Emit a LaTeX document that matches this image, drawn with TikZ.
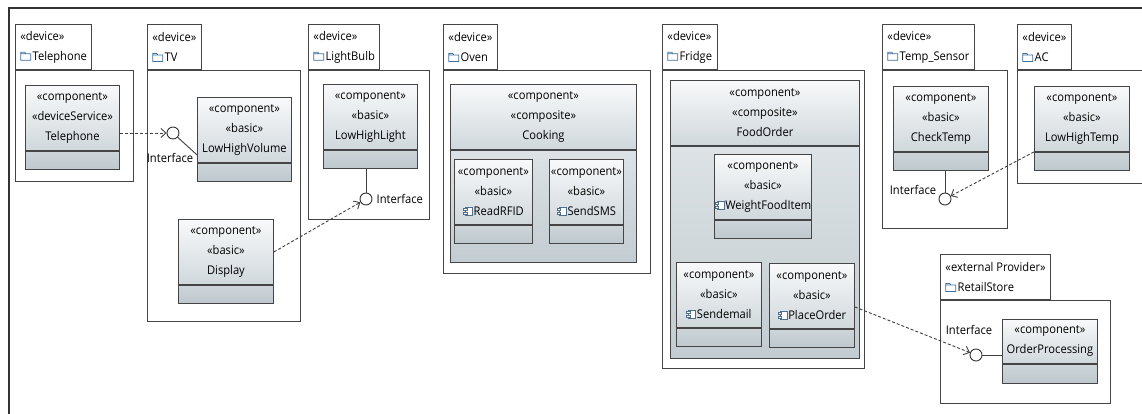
\documentclass[tikz,border=0pt]{standalone}
\usepackage{fontspec}
\setmainfont{Open Sans}[FakeStretch=0.93]
\usepackage{tikz}
\usetikzlibrary{arrows.meta,positioning,calc}

\definecolor{framegray}{HTML}{333333}
\definecolor{boxline}{HTML}{454545}
\definecolor{hdtop}{HTML}{F8F9FA}
\definecolor{hdbot}{HTML}{D0D8DC}
\definecolor{celltop}{HTML}{CDD5D9}
\definecolor{cellbot}{HTML}{BEC8CD}
\definecolor{bodytop}{HTML}{DCE2E5}
\definecolor{bodybot}{HTML}{C3CCD1}
\definecolor{fldblue}{HTML}{3F6F9F}
\definecolor{iconcol}{HTML}{4F6F8F}

% small glyphs in front of names
\newcommand{\foldicon}{\tikz[baseline=0pt]\draw[fldblue, line width=0.7pt]
  (0pt,0pt) rectangle (10pt,6.5pt) (0pt,6.5pt) -- (0pt,8pt) -- (4pt,8pt) -- (5pt,6.5pt);\hspace{1.5pt}}
\newcommand{\compicon}{\tikz[baseline=0pt]{\draw[iconcol, line width=0.6pt, fill=white] (2pt,0pt) rectangle (9pt,8.5pt);
  \draw[iconcol, line width=0.6pt, fill=white] (0pt,1.5pt) rectangle (3.5pt,3pt) (0pt,5.5pt) rectangle (3.5pt,7pt);}\hspace{1pt}}

\begin{document}
\begin{tikzpicture}[
  x=1pt, y=-1pt,
  font=\fontsize{12}{20}\selectfont,
  devbody/.style={draw=boxline, line width=0.9pt, fill=white, anchor=north west, inner sep=0pt},
  devtab/.style={draw=boxline, line width=0.9pt, fill=white, anchor=south west, align=left,
                 minimum height=45pt, inner xsep=5pt, inner ysep=0pt},
  comp/.style={draw=boxline, line width=0.9pt, top color=hdtop, bottom color=hdbot,
               minimum height=65pt, align=center, inner sep=0pt, anchor=north west},
  cell/.style={draw=boxline, line width=0.9pt, top color=celltop, bottom color=cellbot,
               minimum height=18pt, inner sep=0pt, anchor=north west},
  cbody/.style={cell, top color=bodytop, bottom color=bodybot},
  iface/.style={circle, draw=black!80, line width=0.9pt, fill=white, minimum size=12pt, inner sep=0pt},
  lbl/.style={inner sep=0pt},
  sock/.style={line width=0.9pt, black!75},
  dep/.style={densely dashed, line width=0.9pt, black!75, -{Straight Barb[length=5pt,width=9pt]}}
]
\useasboundingbox (0,0) rectangle (1142,413);
\clip (0,0) rectangle (1142,413);
\fill[white] (0,0) rectangle (1142,413);
\draw[framegray, line width=2pt] (9,420) -- (9,8) -- (1150,8);

% Telephone
\node[devbody, minimum width=118pt, minimum height=111pt] (telB) at (15,70) {};
\node[devtab] (telT) at (telB.north west) {«device»\\\foldicon Telephone};
\node[comp, minimum width=94pt] (tel) at (25,85) {«component»\\«deviceService»\\Telephone};
\node[cell, minimum width=94pt] (tel-c) at (tel.south west) {};

% TV
\node[devbody, minimum width=153pt, minimum height=251pt] (tvB) at (147,70) {};
\node[devtab] (tvT) at (tvB.north west) {«device»\\\foldicon TV};
\node[comp, minimum width=94pt] (lhv) at (197,97) {«component»\\«basic»\\LowHighVolume};
\node[cell, minimum width=94pt] (lhv-c) at (lhv.south west) {};
\node[comp, minimum width=95pt] (disp) at (178,219) {«component»\\«basic»\\Display};
\node[cell, minimum width=95pt] (disp-c) at (disp.south west) {};

% LightBulb
\node[devbody, minimum width=121pt, minimum height=149pt] (lbB) at (308,70) {};
\node[devtab] (lbT) at (lbB.north west) {«device»\\\foldicon LightBulb};
\node[comp, minimum width=94pt] (llt) at (323,84) {«component»\\«basic»\\LowHighLight};
\node[cell, minimum width=94pt] (llt-c) at (llt.south west) {};

% Oven
\node[devbody, minimum width=207pt, minimum height=203pt] (ovB) at (443,70) {};
\node[devtab] (ovT) at (ovB.north west) {«device»\\\foldicon Oven};
\node[comp, minimum width=186pt] (cook) at (450,84) {«component»\\«composite»\\Cooking};
\node[cbody, minimum width=186pt, minimum height=112pt] (cook-b) at (cook.south west) {};
\node[comp, minimum width=78pt] (rfid) at (454,159) {«component»\\«basic»\\\compicon ReadRFID};
\node[cell, minimum width=78pt] (rfid-c) at (rfid.south west) {};
\node[comp, minimum width=74pt] (sms) at (549,159) {«component»\\«basic»\\\compicon SendSMS};
\node[cell, minimum width=74pt] (sms-c) at (sms.south west) {};

% Fridge
\node[devbody, minimum width=202pt, minimum height=298pt] (frB) at (662,70) {};
\node[devtab] (frT) at (frB.north west) {«device»\\\foldicon Fridge};
\node[comp, minimum width=189pt] (food) at (670,80) {«component»\\«composite»\\FoodOrder};
\node[cbody, minimum width=189pt, minimum height=212pt] (food-b) at (food.south west) {};
\node[comp, minimum width=97pt] (wfi) at (714,154) {«component»\\«basic»\\\compicon WeightFoodItem};
\node[cell, minimum width=97pt] (wfi-c) at (wfi.south west) {};
\node[comp, minimum width=85pt] (mail) at (676,262) {«component»\\«basic»\\\compicon Sendemail};
\node[cell, minimum width=85pt] (mail-c) at (mail.south west) {};
\node[comp, minimum width=85pt] (po) at (769,263) {«component»\\«basic»\\\compicon PlaceOrder};
\node[cell, minimum width=85pt] (po-c) at (po.south west) {};

% Temp_Sensor
\node[devbody, minimum width=125pt, minimum height=158pt] (tsB) at (882,70) {};
\node[devtab] (tsT) at (tsB.north west) {«device»\\\foldicon Temp\_Sensor};
\node[comp, minimum width=95pt] (ct) at (893,86) {«component»\\«basic»\\CheckTemp};
\node[cell, minimum width=95pt] (ct-c) at (ct.south west) {};

% AC
\node[devbody, minimum width=133pt, minimum height=113pt] (acB) at (1017,70) {};
\node[devtab] (acT) at (acB.north west) {«device»\\\foldicon AC};
\node[comp, minimum width=95pt] (lht) at (1034,86) {«component»\\«basic»\\LowHighTemp};
\node[cell, minimum width=95pt] (lht-c) at (lht.south west) {};

% RetailStore
\node[devbody, minimum width=170pt, minimum height=103pt] (rsB) at (940,300) {};
\node[devtab] (rsT) at (rsB.north west) {«external Provider»\\\foldicon RetailStore};
\node[comp, minimum width=95pt, minimum height=44pt] (op) at (1002,319) {«component»\\OrderProcessing};
\node[cell, minimum width=95pt, minimum height=19pt] (op-c) at (op.south west) {};

% interfaces
\node[iface] (ifTV) at (173,133) {};
\node[lbl] (ifTVl) at (170,158) {Interface};
\node[iface] (ifLB) at (366,199) {};
\node[lbl, right=4pt of ifLB] (ifLBl) {Interface};
\node[iface] (ifTS) at (945,199) {};
\node[lbl] (ifTSl) at (913,190) {Interface};
\node[iface] (ifRS) at (976,355) {};
\node[lbl] (ifRSl) at (969,330) {Interface};

\draw[sock] (ifTV) -- ([yshift=8pt]lhv.south west);
\draw[sock] (ifLB) -- (ifLB |- llt-c.south);
\draw[sock] (ifTS) -- (ifTS |- ct-c.south);
\draw[sock] (ifRS) -- (ifRS -| op.west);

\draw[dep] (tel.east |- ifTV) -- (ifTV);
\draw[dep] (disp.east) -- (ifLB);
\draw[dep] (lht.south west) -- (ifTS);
\draw[dep] ([yshift=-11pt]po.east) -- (ifRS);
\end{tikzpicture}
\end{document}
